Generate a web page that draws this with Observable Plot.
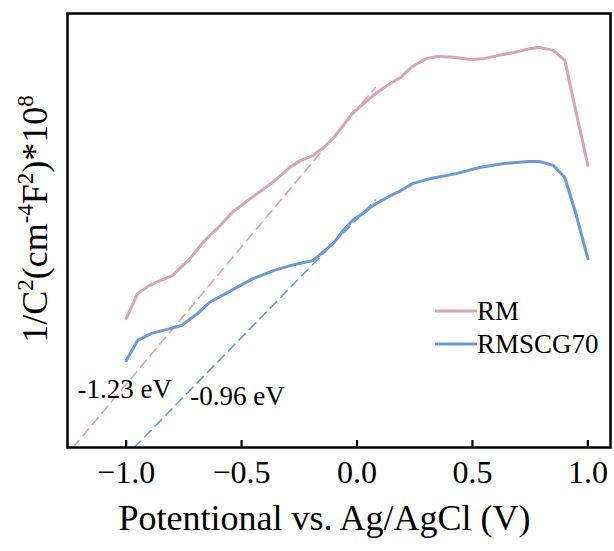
<!DOCTYPE html>
<html>
<head>
<meta charset="utf-8">
<script src="https://cdn.jsdelivr.net/npm/d3@7"></script>
<script src="https://cdn.jsdelivr.net/npm/@observablehq/plot@0.6"></script>
<style>
  html, body { margin: 0; padding: 0; background: white; }
</style>
</head>
<body>
<script>
// ---- data ----
const seriesNames = ["RM", "RMSCG70"];
const seriesColors = ["#d8a5b2", "#6b9bd6"];

const rmPotential = [-1.00,-0.95,-0.90,-0.85,-0.80,-0.73,-0.66,-0.60,-0.54,-0.45,-0.36,-0.29,-0.245,-0.19,-0.15,-0.10,-0.06,-0.02,0.03,0.07,0.13,0.19,0.24,0.30,0.35,0.42,0.49,0.55,0.61,0.68,0.75,0.79,0.85,0.90,0.95,1.00];
const rmValues    = [2.97,3.55,3.73,3.85,3.96,4.31,4.77,5.07,5.42,5.78,6.13,6.46,6.61,6.73,6.89,7.14,7.42,7.70,7.93,8.11,8.34,8.53,8.78,8.96,9.01,8.99,8.94,8.96,9.03,9.10,9.19,9.22,9.15,8.92,7.70,6.50];

const cgPotential = [-1.00,-0.95,-0.89,-0.81,-0.76,-0.69,-0.64,-0.52,-0.45,-0.36,-0.29,-0.25,-0.19,-0.15,-0.10,-0.06,-0.02,0.03,0.07,0.13,0.19,0.24,0.32,0.43,0.53,0.63,0.74,0.79,0.85,0.90,0.95,1.00];
const cgValues    = [2.00,2.47,2.63,2.74,2.81,3.09,3.34,3.69,3.89,4.08,4.19,4.24,4.31,4.49,4.72,5.00,5.23,5.41,5.58,5.76,5.92,6.08,6.20,6.31,6.45,6.54,6.59,6.59,6.50,6.22,5.35,4.35];

// tangent (Mott-Schottky extrapolation) lines: [potential, value] end points
const rmTangentX = [-1.23, 0.08];
const rmTangentY = [0, 8.30];
const cgTangentX = [-0.965, 0.08];
const cgTangentY = [0, 5.70];

const annotationLabels = ["-1.23 eV", "-0.96 eV"];
const annotationX = [-1.211, -0.722];
const annotationY = [1.35, 1.17];

const xTicks = [-1.0, -0.5, 0.0, 0.5, 1.0];
const xTitle = "Potentional vs. Ag/AgCl (V)";

// ---- build tables ----
const rm = rmPotential.map((x, i) => ({x, y: rmValues[i]}));
const cg = cgPotential.map((x, i) => ({x, y: cgValues[i]}));
const rmTan = rmTangentX.map((x, i) => ({x, y: rmTangentY[i]}));
const cgTan = cgTangentX.map((x, i) => ({x, y: cgTangentY[i]}));
const ann = annotationLabels.map((t, i) => ({t, x: annotationX[i], y: annotationY[i]}));

const serif = "'Liberation Serif', 'Times New Roman', serif";

const plot = Plot.plot({
  width: 614,
  height: 551,
  marginLeft: 67,
  marginRight: 4,
  marginTop: 13,
  marginBottom: 104,
  style: {fontFamily: serif, background: "white", color: "black"},
  x: {domain: [-1.254, 1.098]},
  y: {domain: [0, 10], axis: null},
  marks: [
    Plot.line(rmTan, {x: "x", y: "y", stroke: seriesColors[0], strokeWidth: 1.6, strokeDasharray: "9,6"}),
    Plot.line(cgTan, {x: "x", y: "y", stroke: seriesColors[1], strokeWidth: 1.6, strokeDasharray: "9,6"}),
    Plot.line(rm, {x: "x", y: "y", stroke: seriesColors[0], strokeWidth: 3, curve: "linear", strokeLinejoin: "round"}),
    Plot.line(cg, {x: "x", y: "y", stroke: seriesColors[1], strokeWidth: 3, curve: "linear", strokeLinejoin: "round"}),
    Plot.ruleX(xTicks, {x: d => d, insetTop: 427, stroke: "black", strokeWidth: 2.2}),
    Plot.axisX(xTicks, {tickSize: 0, tickPadding: 13, fontSize: 32, fill: "black", tickFormat: d3.format(".1f"), label: null}),
    Plot.frame({stroke: "black", strokeWidth: 2.5}),
    Plot.text(ann, {x: "x", y: "y", text: "t", textAnchor: "start", lineAnchor: "middle", fontSize: 27, fill: "black"}),
    Plot.text([xTitle], {frameAnchor: "bottom", lineAnchor: "middle", dx: -14.5, dy: 70.5, fontSize: 36, fill: "black"})
  ]
});

document.body.append(plot);

// ---- y-axis label with superscripts ----
const svg = d3.select(plot.tagName.toLowerCase() === "svg" ? plot : plot.querySelector("svg"));
const yl = svg.append("text")
  .attr("transform", "translate(47,219) rotate(-90)")
  .attr("text-anchor", "middle")
  .attr("font-family", serif)
  .attr("font-size", 36)
  .attr("fill", "black");
const parts = [["1/C", false], ["2", true], ["(cm", false], ["-4", true], ["F", false], ["2", true], [")*10", false], ["8", true]];
let up = false;
parts.forEach(([t, sup]) => {
  const ts = yl.append("tspan").text(t);
  if (sup && !up) { ts.attr("dy", -14).attr("font-size", 23); up = true; }
  else if (sup) { ts.attr("font-size", 23); }
  else if (!sup && up) { ts.attr("dy", 14); up = false; }
});

// ---- legend ----
const legendY = [311, 344];
seriesNames.forEach((name, i) => {
  svg.append("line")
    .attr("x1", 435).attr("x2", 477)
    .attr("y1", legendY[i]).attr("y2", legendY[i])
    .attr("stroke", seriesColors[i]).attr("stroke-width", 3);
  svg.append("text")
    .attr("x", 477).attr("y", legendY[i] + 8.5)
    .attr("text-anchor", "start")
    .attr("font-family", serif).attr("font-size", 27).attr("fill", "black")
    .text(name);
});
</script>
</body>
</html>
